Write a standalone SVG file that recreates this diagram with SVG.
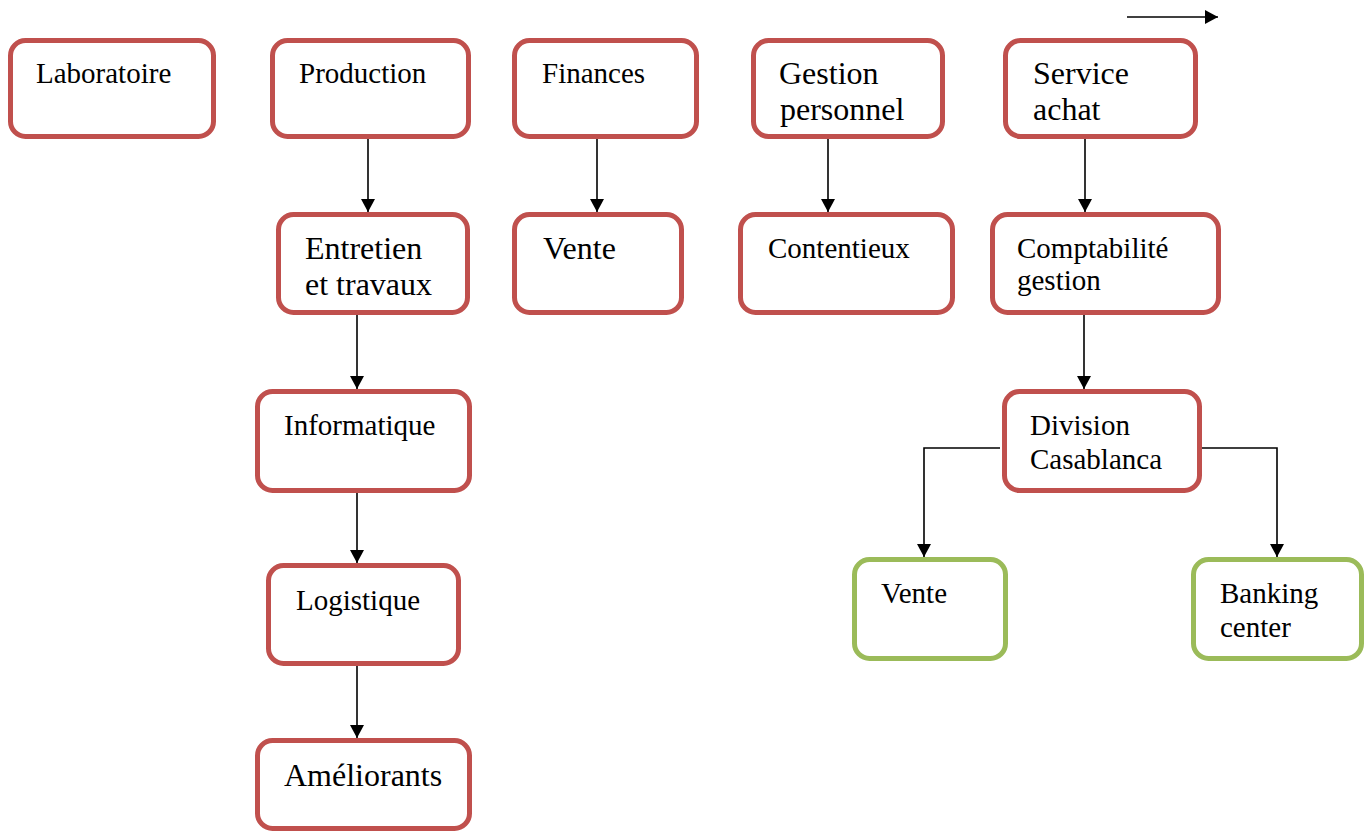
<svg xmlns="http://www.w3.org/2000/svg" width="1370" height="832" viewBox="0 0 1370 832">
<style>
.box{fill:#fff;stroke:#C0504D;stroke-width:5}
.gbox{fill:#fff;stroke:#9BBB59;stroke-width:5}
text{font-family:"Liberation Serif","Times New Roman",serif;font-size:29px;fill:#000}
.big{font-size:32px}
.conn{fill:none;stroke:#000;stroke-width:1.6;marker-end:url(#ah)}
</style>
<defs>
<marker id="ah" markerUnits="userSpaceOnUse" markerWidth="16" markerHeight="16" refX="13" refY="7" orient="auto">
<path d="M0,0 L13,7 L0,14 Z" fill="#000"/>
</marker>
</defs>
<g id="connectors">
<line class="conn" x1="1127" y1="17" x2="1218" y2="17"/>
<line class="conn" x1="368" y1="139" x2="368" y2="212"/>
<line class="conn" x1="597" y1="139" x2="597" y2="212"/>
<line class="conn" x1="828" y1="139" x2="828" y2="212"/>
<line class="conn" x1="1085" y1="139" x2="1085" y2="212"/>
<line class="conn" x1="357" y1="315" x2="357" y2="389"/>
<line class="conn" x1="1084" y1="315" x2="1084" y2="389"/>
<line class="conn" x1="357" y1="493" x2="357" y2="563"/>
<line class="conn" x1="357" y1="666" x2="357" y2="738"/>
<polyline class="conn" points="1000,448 924,448 924,557"/>
<polyline class="conn" points="1202,448 1277,448 1277,557"/>
</g>
<g id="laboratoire"><rect class="box" x="10.5" y="40.5" width="203" height="96" rx="15"/><text x="36" y="83">Laboratoire</text></g>
<g id="production"><rect class="box" x="272.5" y="40.5" width="196" height="96" rx="15"/><text x="299" y="83">Production</text></g>
<g id="finances"><rect class="box" x="514.5" y="40.5" width="182" height="96" rx="15"/><text x="542" y="83">Finances</text></g>
<g id="gestion"><rect class="box" x="753.5" y="40.5" width="189" height="96" rx="15"/><text class="big" x="779" y="84">Gestion</text><text class="big" x="780" y="120">personnel</text></g>
<g id="service-achat"><rect class="box" x="1005.5" y="40.5" width="190" height="96" rx="15"/><text class="big" x="1033" y="84">Service</text><text class="big" x="1033" y="120">achat</text></g>
<g id="entretien"><rect class="box" x="278.5" y="214.5" width="189" height="98" rx="15"/><text class="big" x="305" y="259">Entretien</text><text class="big" x="305" y="295">et travaux</text></g>
<g id="vente1"><rect class="box" x="514.5" y="214.5" width="167" height="98" rx="15"/><text class="big" x="543" y="259">Vente</text></g>
<g id="contentieux"><rect class="box" x="740.5" y="214.5" width="212" height="98" rx="15"/><text x="768" y="258">Contentieux</text></g>
<g id="comptabilite"><rect class="box" x="992.5" y="214.5" width="226" height="98" rx="15"/><text x="1017" y="258">Comptabilité</text><text x="1017" y="290">gestion</text></g>
<g id="informatique"><rect class="box" x="257.5" y="391.5" width="212" height="99" rx="15"/><text x="284" y="435">Informatique</text></g>
<g id="division"><rect class="box" x="1004.5" y="391.5" width="195" height="99" rx="15"/><text x="1030" y="435">Division</text><text x="1030" y="469">Casablanca</text></g>
<g id="logistique"><rect class="box" x="268.5" y="565.5" width="190" height="98" rx="15"/><text x="296" y="610">Logistique</text></g>
<g id="vente2"><rect class="gbox" x="854.5" y="559.5" width="151" height="99" rx="15"/><text x="881" y="603">Vente</text></g>
<g id="banking"><rect class="gbox" x="1193.5" y="559.5" width="168" height="99" rx="15"/><text x="1220" y="603">Banking</text><text x="1220" y="637">center</text></g>
<g id="ameliorants"><rect class="box" x="257.5" y="740.5" width="212" height="88" rx="15"/><text class="big" x="284" y="786">Améliorants</text></g>
</svg>
